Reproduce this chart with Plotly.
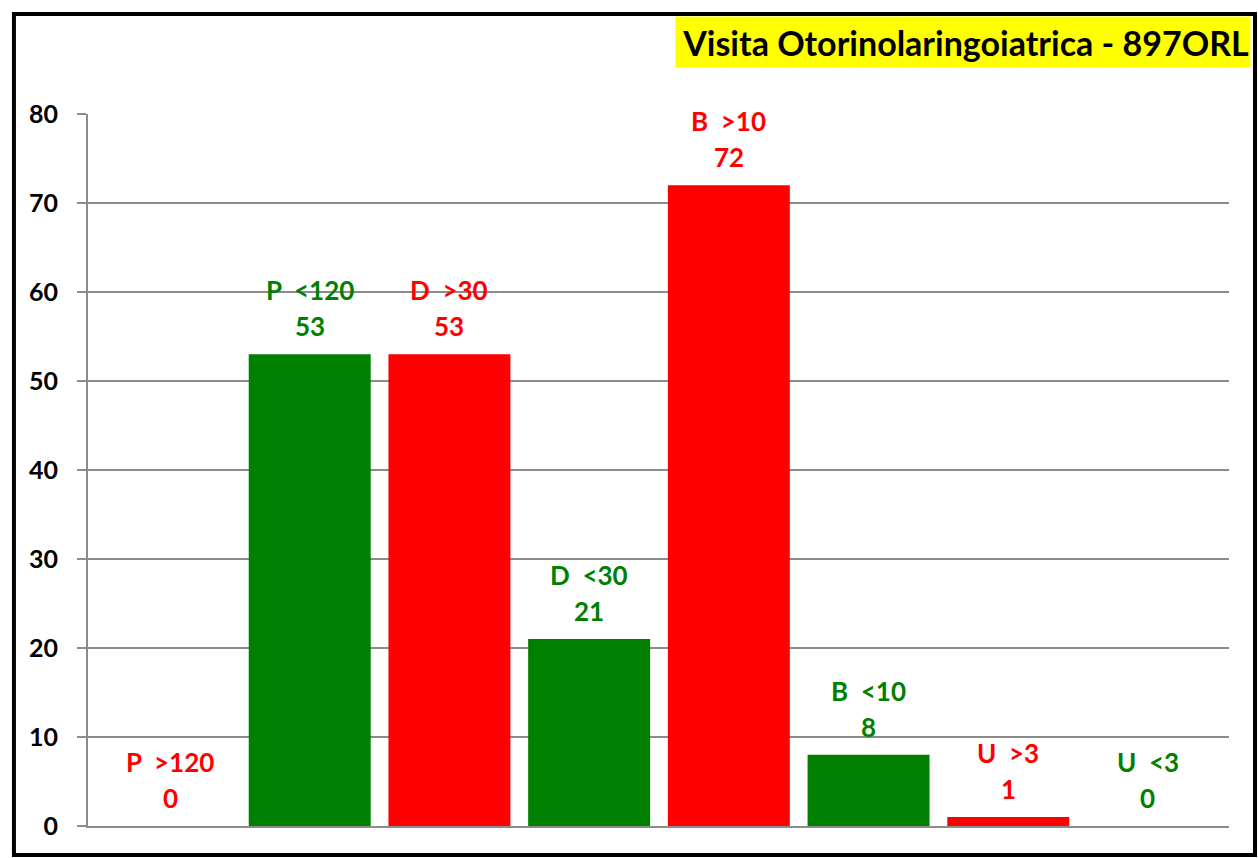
import plotly.graph_objects as go

# data
categories = ["P  >120", "P  <120", "D  >30", "D  <30", "B  >10", "B  <10", "U  >3", "U  <3"]
values = [0, 53, 53, 21, 72, 8, 1, 0]
bar_colors = ["#ff0000", "#008000", "#ff0000", "#008000", "#ff0000", "#008000", "#ff0000", "#008000"]
title_text = "Visita Otorinolaringoiatrica - 897ORL"
y_ticks = [0, 10, 20, 30, 40, 50, 60, 70, 80]

fig = go.Figure(go.Bar(
    x=categories,
    y=values,
    marker=dict(color=bar_colors, line=dict(width=0)),
    width=0.873,
    cliponaxis=False,
))

# two-line labels above each bar: name, then value
for c, v, col in zip(categories, values, bar_colors):
    lab_font = dict(family="Lato", size=26, color=col, weight="bold")
    fig.add_annotation(x=c, y=v, text=str(v), showarrow=False,
                       yanchor="bottom", yshift=10, font=lab_font)
    fig.add_annotation(x=c, y=v, text=c.replace(" ", "\u00a0"), showarrow=False,
                       yanchor="bottom", yshift=46, font=lab_font)

fig.update_layout(
    width=1258, height=858,
    margin=dict(l=88, r=29, t=114, b=32),
    plot_bgcolor="white", paper_bgcolor="white",
    showlegend=False,
    font=dict(family="Lato"),
)

fig.update_xaxes(
    range=[-0.587, 7.58],
    showticklabels=False,
    ticks="",
    showgrid=False,
    showline=True, linecolor="#8c8c8c", linewidth=2,
)
fig.update_yaxes(
    range=[0, 80],
    tickvals=y_ticks,
    tickfont=dict(family="Lato", size=25, color="black", weight="bold"),
    ticks="outside", ticklen=9, tickcolor="#8c8c8c", tickwidth=2,
    ticklabelstandoff=14,
    showgrid=True, gridcolor="#8c8c8c", gridwidth=1.5,
    showline=True, linecolor="#8c8c8c", linewidth=2,
    zeroline=False,
)

# outer black frame
fig.add_shape(type="rect", xref="paper", yref="paper",
              x0=-0.0649, x1=1.0228, y0=-0.0407, y1=1.1404,
              line=dict(color="black", width=4), layer="above")

# yellow title box
fig.add_annotation(
    text=title_text, xref="paper", yref="paper",
    x=1.0193, y=1.1013, xanchor="right", yanchor="middle",
    showarrow=False, bgcolor="#ffff00", width=572, height=48, align="right",
    font=dict(family="Lato", size=34, color="black", weight="bold"),
)

fig.write_html("out.html", config={"displayModeBar": False},
               post_script="document.body.style.margin='0';")
